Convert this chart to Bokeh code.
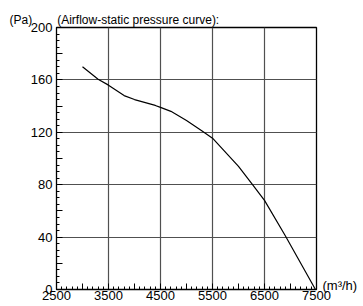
from bokeh.plotting import figure
from bokeh.models import FixedTicker, Range1d, LinearAxis
from bokeh.embed import file_html
from bokeh.resources import INLINE

# Data
airflow = [3000, 3300, 3500, 3800, 4000, 4400, 4500, 4700, 5000, 5300, 5500, 6000, 6270, 6500, 6900, 7480]
pressure = [170, 160.5, 156, 148, 145, 140.5, 139, 136, 129, 121, 115.5, 94, 80, 68, 41, 0]

x_tick_labels = [2500, 3500, 4500, 5500, 6500, 7500]
x_mid_ticks = [3000, 4000, 5000, 6000, 7000]
y_tick_labels = [0, 40, 80, 120, 160, 200]
y_mid_ticks = [20, 60, 100, 140, 180]

title_text = "(Airflow-static pressure curve):"
y_unit = "(Pa)"
x_unit = "(m³/h)"

FONT = "Liberation Sans"

p = figure(width=363, height=306,
           output_backend="svg", toolbar_location=None,
           x_range=Range1d(2500, 7500), y_range=Range1d(0, 200),
           min_border_left=56, min_border_right=47, min_border_top=27, min_border_bottom=17)

p.line(airflow, pressure, line_color="black", line_width=1.2)

xt = sorted(x_tick_labels + x_mid_ticks)
p.xaxis.ticker = FixedTicker(ticks=xt, minor_ticks=list(range(2500, 7501, 100)))
p.xaxis.major_label_overrides = {v: ("" if v in x_mid_ticks else str(v)) for v in xt}
yt = sorted(y_tick_labels + y_mid_ticks)
p.yaxis.ticker = FixedTicker(ticks=yt, minor_ticks=list(range(0, 201, 5)))
p.yaxis.major_label_overrides = {v: ("" if v in y_mid_ticks else str(v)) for v in yt}

for ax in (p.xaxis[0], p.yaxis[0]):
    ax.major_tick_in = 6
    ax.major_tick_out = 0
    ax.minor_tick_in = 3
    ax.minor_tick_out = 0
    ax.major_tick_line_color = "black"
    ax.minor_tick_line_color = "black"
    ax.axis_line_color = "black"
    ax.major_label_text_font = FONT
    ax.major_label_text_font_size = "13px"
    ax.major_label_text_color = "black"
p.xaxis.major_label_standoff = 1
p.yaxis.major_label_standoff = 4

# unit label of the x axis, drawn as a tick label of a right-hand axis
unit_axis = LinearAxis(ticker=FixedTicker(ticks=[3]), major_label_overrides={3: x_unit},
                       major_tick_in=0, major_tick_out=0, minor_tick_in=0, minor_tick_out=0,
                       axis_line_color=None, major_label_standoff=6,
                       major_label_text_font=FONT, major_label_text_font_size="13px",
                       major_label_text_color="black")
p.add_layout(unit_axis, "right")

p.xgrid.ticker = FixedTicker(ticks=x_tick_labels)
p.ygrid.ticker = FixedTicker(ticks=y_tick_labels)
for g in (p.xgrid[0], p.ygrid[0]):
    g.grid_line_color = "#505050"
    g.grid_line_width = 1.2

p.outline_line_color = "black"
p.outline_line_width = 1.3
p.background_fill_color = "white"
p.border_fill_color = "white"

p.title.text = y_unit + "\u2003\u2003\u200a" + title_text
p.title.align = "left"
p.title.offset = -47
p.title.text_font = FONT
p.title.text_font_size = "12px"
p.title.text_font_style = "normal"
p.title.text_color = "black"
p.title.standoff = 2

open("out.html", "w").write(file_html(p, INLINE))
